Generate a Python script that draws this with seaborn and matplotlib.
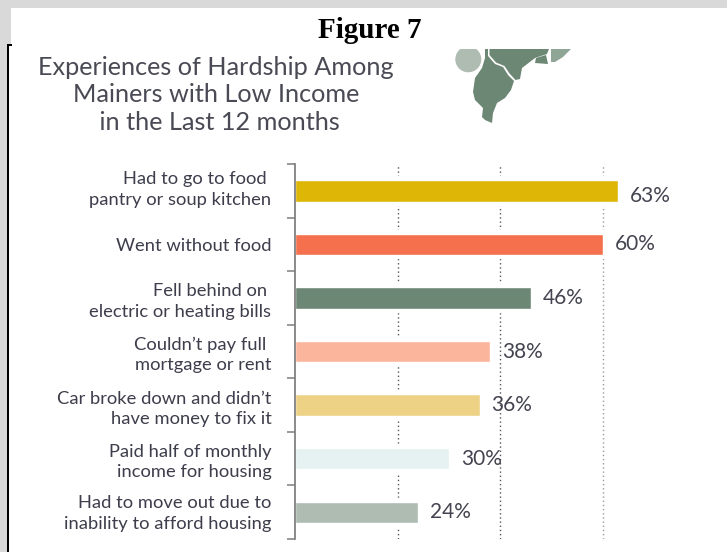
import matplotlib
matplotlib.use('Agg')
import matplotlib.pyplot as plt
import matplotlib.patheffects as pe
from matplotlib.patches import Circle, Polygon, Rectangle
from matplotlib.transforms import ScaledTranslation
import numpy as np
import pandas as pd
import seaborn as sns

categories = [
    'Had to go to food \npantry or soup kitchen',
    'Went without food',
    'Fell behind on \nelectric or heating bills',
    "Couldn\u2019t pay full \nmortgage or rent",
    "Car broke down and didn\u2019t\nhave money to fix it",
    'Paid half of monthly\nincome for housing',
    'Had to move out due to\ninability to afford housing',
]
values = [63, 60, 46, 38, 36, 30, 24]
colors = ['#deb606', '#f5704d', '#6d8775', '#fcb59d', '#edd286', '#e5f2f1', '#aebcb1']
grid_ticks = [20, 40, 60]

W, H = 727, 552
TEXT = '#3d3d4c'
MAP = '#6d8775'

sns.set_theme(style='white')
plt.rcParams['font.family'] = ['Lato', 'DejaVu Sans']

fig = plt.figure(figsize=(W / 100, H / 100), dpi=100, facecolor='white')

# page furniture, in pixels
bg = fig.add_axes([0, 0, 1, 1])
bg.set_xlim(0, W)
bg.set_ylim(H, 0)
bg.axis('off')
bg.add_patch(Rectangle((0, 0), W, 8, color='#d9d9d9', lw=0))
bg.add_patch(Rectangle((0, 0), 11, 45, color='#d9d9d9', lw=0))
bg.add_patch(Rectangle((0, 45), 7, H - 45, color='#d9d9d9', lw=0))
bg.add_patch(Rectangle((7, 44), 2, H - 44, color='black', lw=0))
bg.add_patch(Rectangle((7, 44), 5, 1.5, color='black', lw=0))

bg.text(370, 30, 'Figure 7', family='Liberation Serif', weight='bold', fontsize=21,
        ha='center', va='center', color='black')
bg.text(216, 95, 'Experiences of Hardship Among\nMainers with Low Income\n in the Last 12 months',
        ha='center', va='center', fontsize=18.2, color='#4a4a55', linespacing=1.25)

# little map in the corner
clip = Rectangle((440, 49), 150, 90, transform=bg.transData)
circle = Circle((468.3, 59.3), 13, color='#aebcb1', lw=0)
bg.add_patch(circle)
circle.set_clip_path(clip)
pieces = [
    [(485, 49), (488, 49), (488, 56), (495, 64), (503, 67), (508, 75), (514, 81), (511, 90),
     (505, 98), (497, 103), (493, 113), (492, 123), (485, 120), (482, 117), (483, 108), (475, 100),
     (473, 92), (475, 78), (482, 68), (485, 58)],
    [(489.5, 49), (549, 49), (547, 54), (535, 58), (522, 68), (520, 79), (515.5, 80), (509.5, 73.5),
     (504.5, 66), (496, 62.5), (489.5, 55)],
    [(536, 58), (546, 55), (548, 64), (535, 63)],
]
for p in pieces:
    bg.add_patch(Polygon(p, closed=True, color=MAP, lw=0))
bg.add_patch(Polygon([(551, 49), (571, 49), (563, 57), (555, 62), (551, 62)], closed=True,
                     color='#8fa595', lw=0))

# the chart
left, right, top, bottom = 295, 700, 164, 539
ax = fig.add_axes([left / W, 1 - bottom / H, (right - left) / W, (bottom - top) / H])
ax.patch.set_alpha(0)

df = pd.DataFrame({'hardship': categories, 'percent': values})
sns.barplot(data=df, y='hardship', x='percent', hue='hardship', palette=colors, legend=False,
            width=0.4, saturation=1, ax=ax)

ax.set_xlim(0, (right - left) / 5.13)
ax.set_ylim(len(categories) - 0.5, -0.5)
ax.set_xlabel('')
ax.set_ylabel('')

ax.set_xticks(grid_ticks)
ax.tick_params(axis='x', length=0, labelbottom=False)
ax.set_axisbelow(True)
ax.grid(axis='x', color='#555555', linestyle=(0, (1, 2)), linewidth=1)
ax.grid(axis='y', visible=False)
ax.get_xgridlines()[2].set_color('#999999')

ax.set_yticks(np.arange(len(categories)))
ax.set_yticklabels(categories, fontsize=13.2, color=TEXT, linespacing=1.33, ha='right')
ax.set_yticks(np.arange(len(categories) + 1) - 0.5, minor=True)
ax.tick_params(axis='y', which='major', length=0, pad=17)
ax.tick_params(axis='y', which='minor', length=5.8, width=1.2, color='#888888', left=True)

# first and last labels sit a little higher in the original
for i, up in [(0, 3.6), (6, 1.8)]:
    lab = ax.get_yticklabels()[i]
    lab.set_transform(lab.get_transform() + ScaledTranslation(0, up / 72, fig.dpi_scale_trans))

for s in ['top', 'right', 'bottom']:
    ax.spines[s].set_visible(False)
ax.spines['left'].set_color('#777777')
ax.spines['left'].set_linewidth(1.2)

for bar in ax.patches:
    bar.set_path_effects([pe.withStroke(linewidth=6, foreground='white')])

for i, cont in enumerate(ax.containers):
    lab = ax.bar_label(cont, fmt='%g%%', padding=8.5, fontsize=15, color='#444450')[0]
    if i == 0:
        # the top label sits a bit lower than its bar in the original
        lab.xyann = (lab.xyann[0], -4)

fig.savefig('out.png', dpi=100, facecolor='white')
